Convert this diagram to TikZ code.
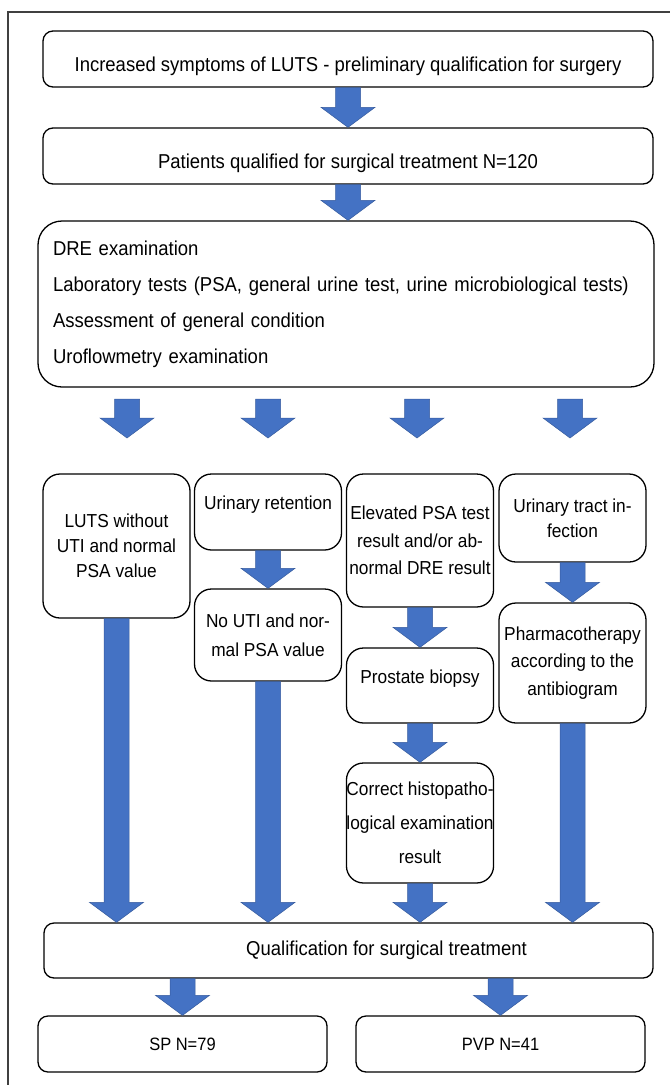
\documentclass[tikz,border=0pt]{standalone}
\usepackage{fontspec}
\setmainfont{Liberation Sans}[FakeStretch=0.92]
\usetikzlibrary{calc}

\definecolor{flowblue}{HTML}{4472C4}

% block arrow from one point straight down to another
\newcommand{\fatarrow}[2]{%
  \path[arrowfill] let \p1=(#1), \p2=(#2) in
    (\x1-12.5pt,\y1) -- (\x1+12.5pt,\y1) -- (\x1+12.5pt,\y2+20pt) -- (\x1+27pt,\y2+20pt)
    -- (\x1,\y2) -- (\x1-27pt,\y2+20pt) -- (\x1-12.5pt,\y2+20pt) -- cycle;}

\begin{document}
\begin{tikzpicture}[x=1pt,y=-1pt,
  box/.style={draw,line width=1.3pt,rounded corners=10pt,inner sep=0pt,align=center,
    font=\fontsize{20.1}{22}\selectfont},
  colbox/.style={box,rounded corners=17pt,minimum width=147pt},
  lowtxt/.style={text height=28pt,text depth=4pt},
  hightxt/.style={text height=14pt,text depth=19pt},
  arrowfill/.style={fill=flowblue,draw=flowblue!80!black,line width=.5pt}]
\useasboundingbox (0,0) rectangle (670,1085);
\draw[line width=1.2pt,black!75] (8,1085) -- (8,12) -- (670,12);

% top of the chart
\node[box,lowtxt,minimum width=610pt,minimum height=56pt] (luts) at (348,59) {Increased symptoms of LUTS - preliminary qualification for surgery};
\node[box,lowtxt,minimum width=610pt,minimum height=56pt] (qualif) at (348,156) {Patients qualified for surgical treatment N=120};
\node[box,rounded corners=24pt,align=left,text width=586pt,inner xsep=15pt,minimum width=616pt,minimum height=166pt,
  font=\fontsize{20.1}{36}\selectfont] (exam) at (346,304) {DRE examination\\Laboratory tests (PSA, general urine test, urine microbiological tests)\\Assessment of general condition\\Uroflowmetry examination};

% four columns
\node[colbox,minimum height=144pt,font=\fontsize{18.8}{25}\selectfont] (lutsok) at (116.5,546) {LUTS without\\UTI and normal\\PSA value};
\node[colbox,hightxt,minimum height=76pt,font=\fontsize{18.8}{27}\selectfont] (retent) at (268,512) {Urinary retention};
\node[colbox,minimum height=92pt,font=\fontsize{18.8}{29}\selectfont] (noUTI) at (268,635) {No UTI and nor-\\mal PSA value};
\node[colbox,minimum height=133pt,font=\fontsize{18.8}{27.5}\selectfont] (elev) at (420,540.5) {Elevated PSA test\\result and/or ab-\\normal DRE result};
\node[colbox,hightxt,minimum height=75pt,font=\fontsize{18.8}{27}\selectfont] (biopsy) at (420,685.5) {Prostate biopsy};
\node[colbox,minimum height=120pt,font=\fontsize{18.8}{34}\selectfont] (histo) at (420,823) {Correct histopatho-\\logical examination\\result};
\node[colbox,minimum height=88pt,font=\fontsize{18.8}{25}\selectfont] (uti) at (572.5,518) {Urinary tract in-\\fection};
\node[colbox,minimum height=120pt,font=\fontsize{18.8}{27.5}\selectfont] (pharma) at (572.5,663) {Pharmacotherapy\\according to the\\antibiogram};

% bottom of the chart
\node[box,minimum width=609pt,minimum height=55pt] (final) at (348.5,950.5) {\hspace*{76pt}Qualification for surgical treatment};
\node[box,minimum width=289pt,minimum height=56pt,font=\fontsize{17.9}{20}\selectfont] (sp) at (182.5,1044) {SP N=79};
\node[box,minimum width=289pt,minimum height=56pt,font=\fontsize{17.9}{20}\selectfont] (pvp) at (500.5,1044) {PVP N=41};

% free ends of the four arrows under the examination box
\coordinate (s1) at (127,399);\coordinate (t1) at (127,438);
\coordinate (s2) at (268,399);\coordinate (t2) at (268,438);
\coordinate (s3) at (417,399);\coordinate (t3) at (417,438);
\coordinate (s4) at (570,399);\coordinate (t4) at (570,438);

\fatarrow{luts.south}{qualif.north}
\fatarrow{qualif.south}{exam.north -| qualif.south}
\fatarrow{s1}{t1}
\fatarrow{s2}{t2}
\fatarrow{s3}{t3}
\fatarrow{s4}{t4}
\fatarrow{retent.south}{noUTI.north}
\fatarrow{elev.south}{biopsy.north}
\fatarrow{biopsy.south}{histo.north}
\fatarrow{uti.south}{pharma.north}
\fatarrow{lutsok.south}{lutsok.south |- final.north}
\fatarrow{noUTI.south}{noUTI.south |- final.north}
\fatarrow{histo.south}{histo.south |- final.north}
\fatarrow{pharma.south}{pharma.south |- final.north}
\fatarrow{sp.north |- final.south}{sp.north}
\fatarrow{pvp.north |- final.south}{pvp.north}
\end{tikzpicture}
\end{document}
